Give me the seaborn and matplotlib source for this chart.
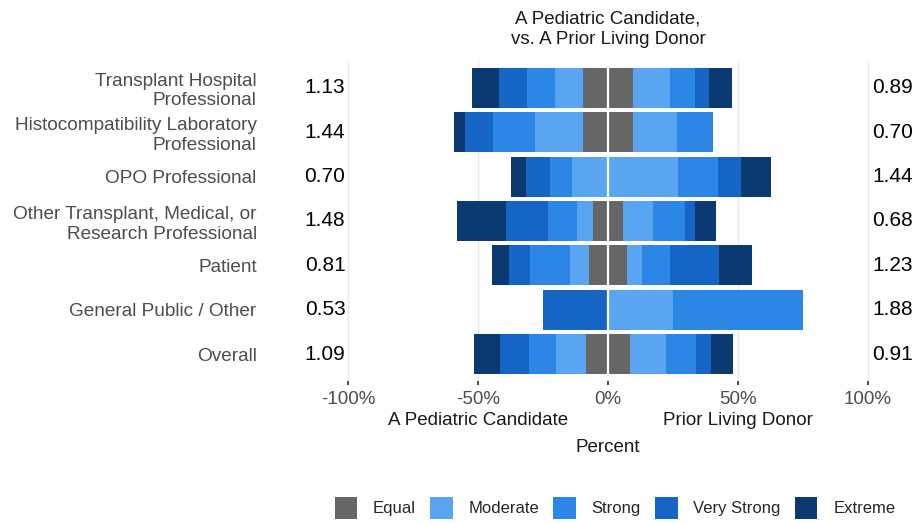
import numpy as np
import pandas as pd
import seaborn as sns
import matplotlib
matplotlib.use("Agg")
import matplotlib.pyplot as plt
from matplotlib.patches import Patch

categories = ["Transplant Hospital\nProfessional",
              "Histocompatibility Laboratory\nProfessional",
              "OPO Professional",
              "Other Transplant, Medical, or\nResearch Professional",
              "Patient",
              "General Public / Other",
              "Overall"]
equal          = [19.0, 19.0, 1.0, 11.8, 14.5, 0.0, 17.0]
left_moderate  = [10.9, 18.6, 13.5, 6.2, 7.3, 0.0, 11.5]
left_strong    = [10.6, 16.0, 8.3, 10.9, 15.4, 0.0, 10.3]
left_very      = [10.8, 10.9, 9.2, 16.4, 8.3, 25.0, 11.2]
left_extreme   = [10.4, 4.2, 5.9, 18.6, 6.4, 0.0, 10.0]
right_moderate = [14.3, 16.9, 26.3, 11.5, 5.8, 25.0, 13.8]
right_strong   = [9.6, 14.1, 15.4, 12.2, 10.9, 50.0, 11.5]
right_very     = [5.5, 0.0, 9.0, 3.8, 18.6, 0.0, 5.8]
right_extreme  = [8.6, 0.0, 11.3, 8.3, 12.8, 0.0, 8.6]
left_ratio  = ["1.13", "1.44", "0.70", "1.48", "0.81", "0.53", "1.09"]
right_ratio = ["0.89", "0.70", "1.44", "0.68", "1.23", "1.88", "0.91"]
levels = ["Equal", "Moderate", "Strong", "Very Strong", "Extreme"]
x_ticks = [-100, -50, 0, 50, 100]
side_labels = ["A Pediatric Candidate", "Prior Living Donor"]

colors = {"Equal": "#666666", "Moderate": "#5aa5f2", "Strong": "#2b86e6",
          "Very Strong": "#1565c4", "Extreme": "#0b3a73"}

sns.set_theme(style="white")
plt.rcParams['font.family'] = ['Liberation Sans', 'DejaVu Sans']

W, H = 917, 523
fig = plt.figure(figsize=(W / 100, H / 100), dpi=100)
ax_l, ax_r, ax_t, ax_b = 265, 912, 61, 381
ax = fig.add_axes([ax_l / W, 1 - ax_b / H, (ax_r - ax_l) / W, (ax_b - ax_t) / H])

df = pd.DataFrame({"cat": categories,
                   "eq": np.array(equal) / 2,
                   "lm": left_moderate, "ls": left_strong, "lv": left_very, "le": left_extreme,
                   "rm": right_moderate, "rs": right_strong, "rv": right_very, "re": right_extreme})

left_cols = ["eq", "lm", "ls", "lv", "le"]
right_cols = ["eq", "rm", "rs", "rv", "re"]
for side, cols, sign in [("L", left_cols, -1), ("R", right_cols, 1)]:
    cum = df[cols].cumsum(axis=1)
    for i in range(len(cols) - 1, -1, -1):
        vals = sign * cum[cols[i]]
        sns.barplot(x=vals, y=df["cat"], color=colors[levels[i]], orient="h",
                    width=0.9, ax=ax, saturation=1, errorbar=None, linewidth=0)

ax.axvline(0, color="white", lw=1.6, zorder=5)

px = 2.6
xmin = -100 - (348 - ax_l) / px
xmax = 100 + (ax_r - 868) / px
ax.set_xlim(xmin, xmax)
ymax = len(categories) - 0.4
ax.set_ylim(ymax, -0.6)
ax.set_xticks(x_ticks)
ax.set_xticklabels([f"{t}%" for t in x_ticks], color="#4d4d4d", fontsize=13.5)
for g in [-100, -50, 50, 100]:
    ax.axvline(g, color="#e8e8e8", lw=1.0, zorder=0)
ax.tick_params(axis="x", length=3, color="#333333", pad=4, bottom=True)
ax.tick_params(axis="y", length=0, pad=6)
ax.set_yticks(range(len(categories)))
ax.set_yticklabels(categories, fontsize=13.7, color="#4d4d4d", ha="right")
for lab in ax.get_yticklabels():
    lab.set_linespacing(1.2)
ax.set_xlabel("")
ax.set_ylabel("")
for s in ax.spines.values():
    s.set_visible(False)

for i in range(len(categories)):
    ax.text(-101, i, left_ratio[i], ha="right", va="center", fontsize=15, color="black")
    ax.text(101.5, i, right_ratio[i], ha="left", va="center", fontsize=15, color="black")

row_px = (ax_b - ax_t) / (ymax + 0.6)
for xv, lab in zip([-50, 50], side_labels):
    ax.text(xv, ymax + (421 - ax_b) / row_px, lab, ha="center", va="center",
            fontsize=13.5, color="#1a1a1a", clip_on=False)

fig.text(608 / W, 1 - 447 / H, "Percent", ha="center", va="center", fontsize=13.5, color="#1a1a1a")
fig.text(608 / W, 1 - 29 / H, "A Pediatric Candidate,\nvs. A Prior Living Donor",
         ha="center", va="center", fontsize=13.5, color="#1a1a1a", linespacing=1.3)

handles = [Patch(facecolor=colors[l], edgecolor="none", label=l) for l in levels]
fig.legend(handles=handles, loc="center", bbox_to_anchor=(615 / W, 1 - 508 / H), ncol=5,
           frameon=False, fontsize=12, handlelength=1.35, handleheight=1.6,
           columnspacing=0.85, handletextpad=0.95, borderpad=0.2)

fig.savefig("out.png", dpi=100)
